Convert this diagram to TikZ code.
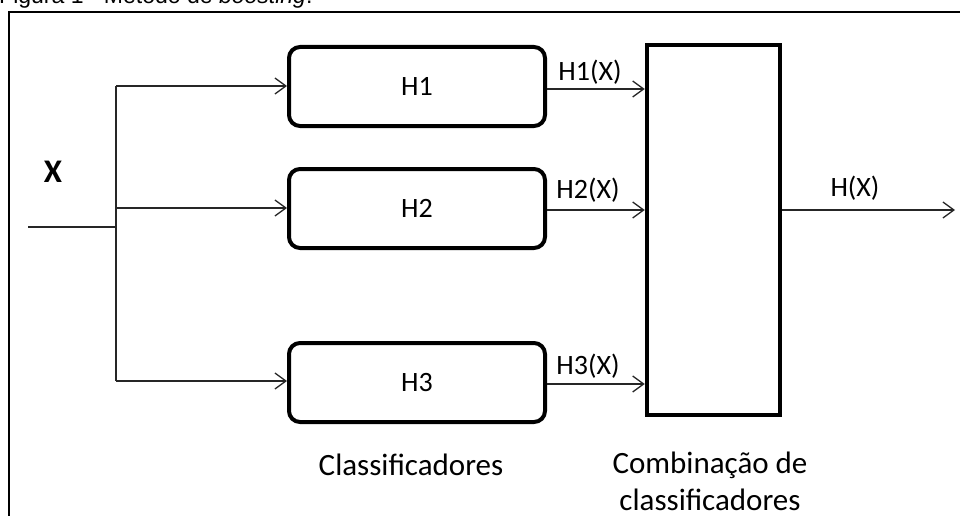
\documentclass[tikz,border=0pt]{standalone}
\usepackage{fontspec}
\setmainfont{Carlito}
\newfontfamily\capfont{Liberation Sans}
\usetikzlibrary{arrows.meta}

\tikzset{
  clsbox/.style={draw=black, line width=4pt, rounded corners=11pt,
    minimum width=256pt, minimum height=79pt, inner sep=0pt,
    font=\fontsize{28}{32}\selectfont},
  combbox/.style={draw=black, line width=4.5pt,
    minimum width=133pt, minimum height=370pt, inner sep=0pt},
  flow/.style={line width=1.3pt, draw=black!85,
    -{Straight Barb[length=11pt,width=16pt,line width=1.3pt]}},
  wire/.style={line width=1.3pt, draw=black!85},
  sig/.style={font=\fontsize{28}{32}\selectfont, inner sep=0pt},
  note/.style={font=\fontsize{31}{37}\selectfont, inner sep=0pt, align=center}
}

\begin{document}
\begin{tikzpicture}[x=1pt,y=-1pt]
  \useasboundingbox (0,0) rectangle (960,516);
  \clip (0,0) rectangle (960,516);

  % caption above the frame (only its lower part lies inside the page)
  \node[anchor=base west, inner sep=0pt, font=\capfont\fontsize{23}{27}\selectfont]
    (caption) at (-1,4) {Figura 1 - Método de \textit{boosting}.};

  % outer frame
  \draw[line width=2pt] (8.5,12.5) rectangle (1100,700);

  % classifiers
  \node[clsbox] (h1) at (417,86.5) {H1};
  \node[clsbox] (h2) at (417,208.5) {H2};
  \node[clsbox] (h3) at (417,382.5) {H3};

  % combiner
  \node[combbox] (comb) at (713.5,230) {};

  % input and its branches
  \coordinate (xin) at (28,227);
  \coordinate (split) at (116,227);
  \coordinate (top) at (116,86);
  \coordinate (bot) at (116,381);
  \draw[wire] (xin) -- (split);
  \draw[wire] (top) -- (bot);
  \draw[flow] (top) -- (h1.west |- top);
  \draw[flow] (116,208) -- (h2.west |- 0,208);
  \draw[flow] (bot) -- (h3.west |- bot);
  \node[font=\bfseries\fontsize{33}{38}\selectfont, inner sep=0pt] (xlab) at (53,172) {X};

  % classifier outputs into the combiner
  \draw[flow] ([yshift=-2.5pt]h1.east) -- (comb.west |- 0,89);
  \draw[flow] ([yshift=-1.5pt]h2.east) -- (comb.west |- 0,210);
  \draw[flow] ([yshift=-1.5pt]h3.east) -- (comb.west |- 0,384);
  \node[sig] (l1) at (590,72) {H1(X)};
  \node[sig] (l2) at (588,190) {H2(X)};
  \node[sig] (l3) at (588,366) {H3(X)};

  % combined output
  \coordinate (out) at (955,210);
  \draw[flow] (comb.east |- out) -- (out);
  \node[sig] (lo) at (855,188) {H(X)};

  % captions under the blocks
  \node[note] (nc) at (411,465) {Classificadores};
  \node[note] (nk) at (710,481) {Combinação de\\classificadores};
\end{tikzpicture}
\end{document}
